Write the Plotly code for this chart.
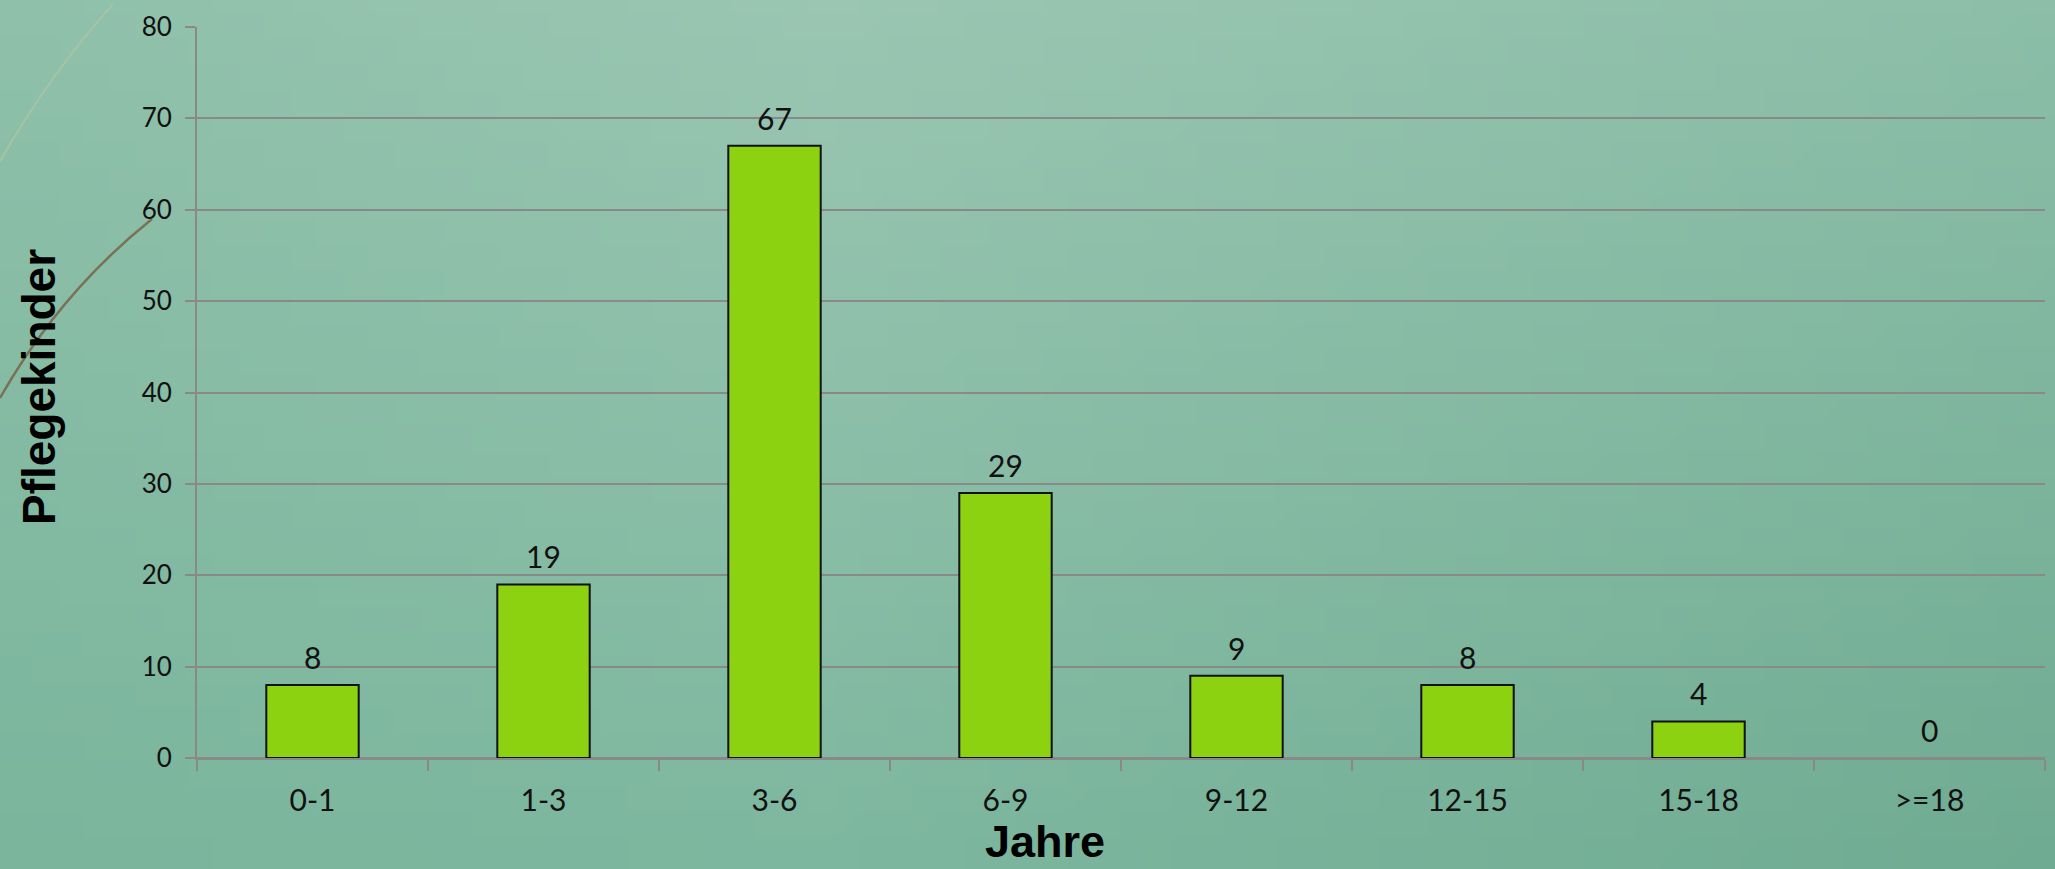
import base64, struct, zlib
import plotly.graph_objects as go

# ---- data ----
categories = ["0-1", "1-3", "3-6", "6-9", "9-12", "12-15", "15-18", ">=18"]
values = [8, 19, 67, 29, 9, 8, 4, 0]
y_ticks = [0, 10, 20, 30, 40, 50, 60, 70, 80]
x_title = "Jahre"
y_title = "Pflegekinder"

# ---- figure geometry (pixels) ----
W, H = 2055, 869
L, R, T, B = 197, 10, 23, 111
PW, PH = W - L - R, H - T - B


def px(xp):
    return (xp - L) / PW


def py(yp):
    return (H - B - yp) / PH


# ---- gradient background as a small PNG ----
def hexrgb(h):
    h = h.lstrip("#")
    return tuple(int(h[i:i + 2], 16) for i in (0, 2, 4))


top = [(0.0, hexrgb("8fc0aa")), (0.4, hexrgb("9ac6b2")), (1.0, hexrgb("8cbea8"))]
bot = [(0.0, hexrgb("7ab59c")), (0.4, hexrgb("7eb79f")), (1.0, hexrgb("6fab92"))]


def interp(stops, t):
    for (t0, c0), (t1, c1) in zip(stops, stops[1:]):
        if t <= t1:
            f = (t - t0) / (t1 - t0)
            return [c0[k] + (c1[k] - c0[k]) * f for k in range(3)]
    return list(stops[-1][1])


GW, GH = 80, 34
raw = b""
for j in range(GH):
    v = j / (GH - 1)
    row = b"\x00"
    for i in range(GW):
        u = i / (GW - 1)
        a = interp(top, u)
        b = interp(bot, u)
        row += bytes(int(round(a[k] + (b[k] - a[k]) * v)) for k in range(3))
    raw += row


def chunk(tag, data):
    c = tag + data
    return struct.pack(">I", len(data)) + c + struct.pack(">I", zlib.crc32(c) & 0xFFFFFFFF)


png = b"\x89PNG\r\n\x1a\n" + chunk(b"IHDR", struct.pack(">IIBBBBB", GW, GH, 8, 2, 0, 0, 0)) \
    + chunk(b"IDAT", zlib.compress(raw, 9)) + chunk(b"IEND", b"")
bg_uri = "data:image/png;base64," + base64.b64encode(png).decode()

GRAY = "#898989"
TICK_FONT = "Lato"
TITLE_FONT = "Liberation Sans"

fig = go.Figure()
fig.add_trace(go.Bar(
    x=categories,
    y=values,
    width=0.4,
    marker=dict(color="#8cd211",
                line=dict(color="#111111", width=[2 if v > 0 else 0 for v in values])),
    hoverinfo="x+y",
))

annotations = []
for c, v in zip(categories, values):
    annotations.append(dict(
        x=c, y=v, xref="x", yref="y", text=str(v), showarrow=False,
        yanchor="bottom", yshift=8,
        font=dict(family=TICK_FONT, size=30, color="#111111"),
    ))
annotations.append(dict(
    x=px(1045), y=py(842), xref="paper", yref="paper", text="<b>%s</b>" % x_title,
    showarrow=False, xanchor="center", yanchor="middle", borderpad=0,
    font=dict(family=TITLE_FONT, size=45, color="#000000"),
))
annotations.append(dict(
    x=px(39), y=py(385), xref="paper", yref="paper", text="<b>%s</b>" % y_title,
    showarrow=False, xanchor="center", yanchor="middle", textangle=-90,
    font=dict(family=TITLE_FONT, size=46, color="#000000"),
))

shapes = [
    dict(type="path", xref="paper", yref="paper", layer="below",
         path="M %f %f Q %f %f %f %f" % (px(113), py(0), px(50), py(70), px(0), py(158)),
         line=dict(color="rgba(175,195,165,0.8)", width=2)),
    dict(type="path", xref="paper", yref="paper", layer="below",
         path="M %f %f Q %f %f %f %f" % (px(152), py(216), px(60), py(290), px(0), py(396)),
         line=dict(color="rgba(120,105,75,0.9)", width=2.5)),
]

fig.update_layout(
    width=W, height=H,
    margin=dict(l=L, r=R, t=T, b=B, pad=0),
    paper_bgcolor="#8fc0aa",
    plot_bgcolor="rgba(0,0,0,0)",
    showlegend=False,
    bargap=0.6,
    annotations=annotations,
    shapes=shapes,
    images=[dict(source=bg_uri, xref="paper", yref="paper",
                 x=px(-6), y=py(-6), sizex=(W + 12) / PW, sizey=(H + 12) / PH,
                 xanchor="left", yanchor="top", sizing="stretch", layer="below")],
    xaxis=dict(
        type="category", range=[-0.5, len(categories) - 0.5],
        showgrid=False, showline=True, linecolor=GRAY, linewidth=2,
        ticks="outside", tickson="boundaries", ticklen=11, tickwidth=2, tickcolor=GRAY,
        tickfont=dict(family=TICK_FONT, size=30, color="#111111"),
        ticklabelstandoff=15,
        fixedrange=True,
    ),
    yaxis=dict(
        range=[0, 80], tickvals=y_ticks,
        showgrid=True, gridcolor=GRAY, gridwidth=2,
        zeroline=True, zerolinecolor=GRAY, zerolinewidth=2,
        showline=True, linecolor=GRAY, linewidth=2,
        ticks="outside", ticklen=10, tickwidth=2, tickcolor=GRAY,
        tickfont=dict(family=TICK_FONT, size=26, color="#111111"),
        ticklabelstandoff=8,
        fixedrange=True,
    ),
)

fig.write_html(
    "out.html",
    config={"displayModeBar": False},
    post_script="document.body.style.margin='0';document.body.style.overflow='hidden';",
)
